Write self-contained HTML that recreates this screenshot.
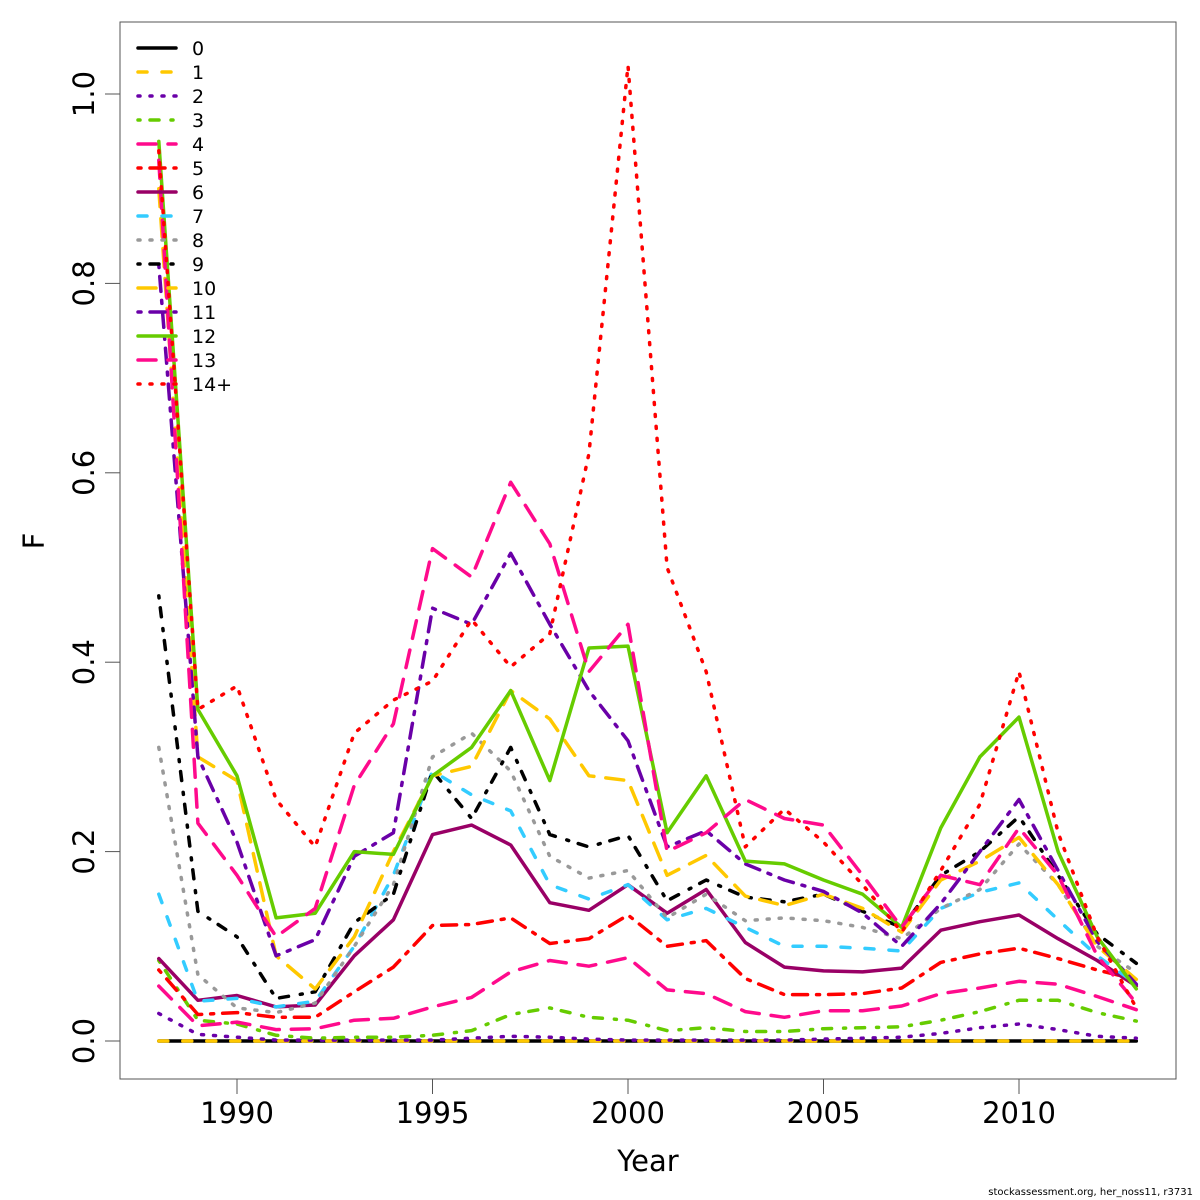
<!DOCTYPE html>
<html><head><meta charset="utf-8"><style>
html,body{margin:0;padding:0;background:#fff}
svg{display:block}
text{font-family:"DejaVu Sans","Liberation Sans",sans-serif}
</style></head><body>
<svg id="chart" width="1200" height="1200" viewBox="0 0 1200 1200" xmlns="http://www.w3.org/2000/svg">
<rect x="0" y="0" width="1200" height="1200" fill="#fff"/>
<g id="marks"></g>
<rect x="120" y="22" width="1056" height="1057" fill="none" stroke="#555" stroke-width="1"/>
<g id="xaxis"></g>
<g id="yaxis"></g>
<text x="648" y="1171" font-size="29" text-anchor="middle">Year</text>
<text transform="translate(44,541) rotate(-90)" font-size="29" text-anchor="middle">F</text>
<text x="1193" y="1195" font-size="10" text-anchor="end">stockassessment.org, her_noss11, r3731</text>
<g id="legend"></g>
</svg>
<script>
const years = [1988,1989,1990,1991,1992,1993,1994,1995,1996,1997,1998,1999,2000,2001,2002,2003,2004,2005,2006,2007,2008,2009,2010,2011,2012,2013];
const xTicks = [1990,1995,2000,2005,2010];
const yTicks = [0,0.2,0.4,0.6,0.8,1.0];
const yTickLabels = ["0.0","0.2","0.4","0.6","0.8","1.0"];
const seriesNames = ["0","1","2","3","4","5","6","7","8","9","10","11","12","13","14+"];
const f0 = [0,0,0,0,0,0,0,0,0,0,0,0,0,0,0,0,0,0,0,0,0,0,0,0,0,0];
const f1 = [0,0,0,0,0,0,0,0,0,0,0,0,0,0,0,0,0,0,0,0,0,0,0,0,0,0];
const f2 = [0.029,0.007,0.004,0.001,0.001,0.001,0.001,0.001,0.003,0.005,0.004,0.002,0.001,0.001,0.001,0.001,0.001,0.002,0.003,0.004,0.008,0.014,0.018,0.012,0.005,0.003];
const f3 = [0.085,0.022,0.018,0.006,0.003,0.004,0.004,0.006,0.011,0.028,0.035,0.025,0.022,0.011,0.014,0.010,0.010,0.013,0.014,0.015,0.022,0.031,0.043,0.043,0.030,0.021];
const f4 = [0.058,0.016,0.020,0.012,0.013,0.022,0.024,0.036,0.046,0.073,0.085,0.079,0.088,0.054,0.050,0.031,0.025,0.032,0.032,0.037,0.050,0.056,0.063,0.060,0.047,0.033];
const f5 = [0.075,0.028,0.030,0.025,0.025,0.052,0.078,0.122,0.123,0.130,0.103,0.108,0.133,0.100,0.106,0.066,0.049,0.049,0.050,0.056,0.083,0.092,0.098,0.087,0.075,0.065];
const f6 = [0.087,0.043,0.048,0.036,0.038,0.090,0.128,0.218,0.228,0.207,0.146,0.138,0.165,0.135,0.160,0.104,0.078,0.074,0.073,0.077,0.117,0.126,0.133,0.108,0.085,0.058];
const f7 = [0.155,0.042,0.045,0.036,0.042,0.100,0.175,0.285,0.260,0.243,0.165,0.150,0.165,0.128,0.140,0.120,0.100,0.100,0.098,0.095,0.140,0.157,0.167,0.128,0.090,0.060];
const f8 = [0.310,0.070,0.035,0.030,0.040,0.100,0.165,0.300,0.325,0.285,0.195,0.172,0.180,0.130,0.155,0.127,0.130,0.127,0.120,0.108,0.140,0.160,0.208,0.165,0.100,0.072];
const f9 = [0.470,0.137,0.110,0.045,0.052,0.125,0.155,0.285,0.235,0.310,0.218,0.205,0.217,0.148,0.170,0.152,0.147,0.155,0.137,0.120,0.175,0.200,0.237,0.175,0.113,0.082];
const f10 = [0.900,0.300,0.275,0.090,0.055,0.110,0.200,0.280,0.290,0.370,0.340,0.280,0.275,0.175,0.196,0.153,0.143,0.155,0.140,0.115,0.170,0.190,0.215,0.165,0.100,0.065];
const f11 = [0.820,0.300,0.210,0.090,0.107,0.195,0.220,0.457,0.440,0.515,0.440,0.370,0.317,0.205,0.222,0.187,0.170,0.158,0.135,0.100,0.145,0.200,0.255,0.180,0.105,0.060];
const f12 = [0.950,0.350,0.280,0.130,0.135,0.200,0.197,0.280,0.310,0.370,0.275,0.415,0.417,0.220,0.280,0.190,0.187,0.170,0.155,0.120,0.225,0.300,0.342,0.200,0.110,0.055];
const f13 = [0.930,0.230,0.175,0.110,0.140,0.270,0.335,0.520,0.490,0.590,0.525,0.390,0.440,0.200,0.220,0.255,0.235,0.228,0.175,0.120,0.175,0.165,0.225,0.175,0.090,0.040];
const f14 = [0.940,0.350,0.375,0.255,0.205,0.325,0.360,0.380,0.445,0.395,0.430,0.620,1.030,0.500,0.390,0.205,0.245,0.210,0.165,0.115,0.180,0.250,0.390,0.220,0.110,0.035];
const allSeries = [f0,f1,f2,f3,f4,f5,f6,f7,f8,f9,f10,f11,f12,f13,f14];

const colors = ["#000000","#FFC800","#6A00A8","#66CC00","#FF0A8C","#FF0000","#990066","#33CCFF","#999999","#000000","#FFC800","#6A00A8","#66CC00","#FF0A8C","#FF0000"];
const dashes = ["", "9 15", "2 10", "2 10 9 12", "18 12", "3 9 15 9", "", "9 15", "2 10", "2 10 9 12", "18 12", "3 9 15 9", "", "18 12", "2 10"];

const NS = "http://www.w3.org/2000/svg";
function xScale(y){ return 237 + (y-1990)*39.1; }
function yScale(v){ return 1041 - v*947; }

const marks = document.getElementById('marks');
for (let s = 0; s < allSeries.length; s++) {
  const vals = allSeries[s];
  const pts = years.map((yr,i)=> xScale(yr).toFixed(1)+","+yScale(vals[i]).toFixed(1)).join(" ");
  const pl = document.createElementNS(NS,'polyline');
  pl.setAttribute('points', pts);
  pl.setAttribute('fill','none');
  pl.setAttribute('stroke', colors[s]);
  pl.setAttribute('stroke-width','3.5');
  pl.setAttribute('stroke-linecap','round');
  pl.setAttribute('stroke-linejoin','round');
  if (dashes[s]) pl.setAttribute('stroke-dasharray', dashes[s]);
  
  
  marks.appendChild(pl);
}

const xa = document.getElementById('xaxis');
const xl = document.createElementNS(NS,'line');
xl.setAttribute('x1', xScale(xTicks[0])); xl.setAttribute('x2', xScale(xTicks[xTicks.length-1]));
xl.setAttribute('y1', 1079); xl.setAttribute('y2', 1079); xl.setAttribute('stroke','#555');


xa.appendChild(xl);
xTicks.forEach(t=>{
  const tk = document.createElementNS(NS,'line');
  tk.setAttribute('x1', xScale(t)); tk.setAttribute('x2', xScale(t));
  tk.setAttribute('y1', 1079); tk.setAttribute('y2', 1094); tk.setAttribute('stroke','#555');
  
  
  xa.appendChild(tk);
  const tx = document.createElementNS(NS,'text');
  tx.setAttribute('x', xScale(t)); tx.setAttribute('y', 1123);
  tx.setAttribute('font-size','29'); tx.setAttribute('text-anchor','middle');
  tx.textContent = t;
  
  
  xa.appendChild(tx);
});

const ya = document.getElementById('yaxis');
const yl = document.createElementNS(NS,'line');
yl.setAttribute('x1', 120); yl.setAttribute('x2', 120);
yl.setAttribute('y1', yScale(yTicks[0])); yl.setAttribute('y2', yScale(yTicks[yTicks.length-1])); yl.setAttribute('stroke','#555');


ya.appendChild(yl);
yTicks.forEach((t,i)=>{
  const tk = document.createElementNS(NS,'line');
  tk.setAttribute('x1', 105); tk.setAttribute('x2', 120);
  tk.setAttribute('y1', yScale(t)); tk.setAttribute('y2', yScale(t)); tk.setAttribute('stroke','#555');
  
  
  ya.appendChild(tk);
  const tx = document.createElementNS(NS,'text');
  tx.setAttribute('transform', 'translate(94,'+yScale(t)+') rotate(-90)');
  tx.setAttribute('font-size','29'); tx.setAttribute('text-anchor','middle');
  tx.textContent = yTickLabels[i];
  
  
  ya.appendChild(tx);
});

const lg = document.getElementById('legend');
seriesNames.forEach((n,i)=>{
  const yy = 48 + i*24;
  const ln = document.createElementNS(NS,'line');
  ln.setAttribute('x1', 138); ln.setAttribute('x2', 176);
  ln.setAttribute('y1', yy); ln.setAttribute('y2', yy);
  ln.setAttribute('stroke', colors[i]); ln.setAttribute('stroke-width','3.5');
  ln.setAttribute('stroke-linecap','round');
  if (dashes[i]) ln.setAttribute('stroke-dasharray', dashes[i]);
  
  
  lg.appendChild(ln);
  const tx = document.createElementNS(NS,'text');
  tx.setAttribute('x', 192); tx.setAttribute('y', yy+7);
  tx.setAttribute('font-size','19');
  tx.textContent = n;
  
  
  lg.appendChild(tx);
});
</script>
</body></html>
